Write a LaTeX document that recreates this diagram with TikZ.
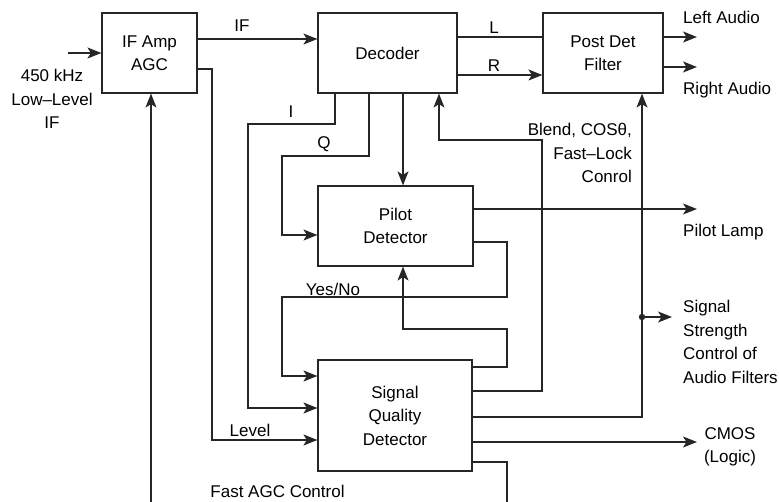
\documentclass[tikz,border=0pt]{standalone}
\usepackage{fontspec}
\setmainfont{Liberation Sans}
\usetikzlibrary{arrows.meta}
\begin{document}
\begin{tikzpicture}[x=1bp,y=-1bp,
  font=\fontsize{17bp}{23.5bp}\selectfont,
  wire/.style={line width=1.2bp,draw=black!85},
  arr/.style={wire,-{Stealth[length=14bp,width=11bp,inset=3.5bp]}},
  box/.style={draw=black!85,line width=1.2bp,align=center,inner sep=0pt},
  lbl/.style={inner sep=0pt,align=center}]
\useasboundingbox (0,0) rectangle (779,502);
% boxes
\node[box,minimum width=95bp,minimum height=80bp] (ifamp) at (149.5,53) {IF Amp\\AGC};
\node[box,minimum width=139bp,minimum height=80bp] (dec) at (387.5,53) {Decoder};
\node[box,minimum width=120bp,minimum height=80bp] (pdf) at (603,53) {Post Det\\Filter};
\node[box,minimum width=155bp,minimum height=80bp] (pilot) at (395.5,226) {Pilot\\Detector};
\node[box,minimum width=154bp,minimum height=111bp] (sqd) at (395,415.5) {Signal\\Quality\\Detector};
% coordinates for free ends
\coordinate (in) at (68,53);
\coordinate (la) at (697,37);
\coordinate (ra) at (697,67);
\coordinate (pl) at (697,209);
\coordinate (cm) at (697,442);
\coordinate (dot) at (642,317);
\coordinate (ss) at (672,317);
\coordinate (agcb) at (151,502);
\coordinate (agcr) at (507,502);
% labels
\node[lbl] (t450) at (52,99) {450 kHz\\Low–Level\\IF};
\node[lbl] (tif) at (242,26) {IF};
\node[lbl] (tl) at (494,28) {L};
\node[lbl] (tr) at (494,66) {R};
\node[lbl,anchor=west] (tla) at (683,17) {Left Audio};
\node[lbl,anchor=west] (tra) at (683,90) {Right Audio};
\node[lbl] (ti) at (291,112) {I};
\node[lbl] (tq) at (324,144) {Q};
\node[lbl,anchor=east,align=right] (tbl) at (632,153) {Blend, COSθ,\\Fast–Lock\\Conrol};
\node[lbl,anchor=west] (tpl) at (683,232) {Pilot Lamp};
\node[lbl,anchor=west,align=left] (tss) at (683,342) {Signal\\Strength\\Control of\\Audio Filters};
\node[lbl] (tyn) at (333,289) {Yes/No};
\node[lbl] (tlv) at (250,430) {Level};
\node[lbl] (tcm) at (730,447) {CMOS\\(Logic)};
\node[lbl] (tfa) at (277.5,491) {Fast AGC Control};
% connectors
\draw[arr] (in) -- (ifamp.west);
\draw[arr] (ifamp.east |- 0,39) -- (dec.west |- 0,39);
\draw[arr] (ifamp.east |- 0,69) -| (212,440) -- (sqd.west |- 0,440);
\draw[arr] (agcb) -- (ifamp.south -| agcb);
\draw[wire] (sqd.east |- 0,462) -| (agcr);
\draw[wire] (dec.east |- 0,37) -- (pdf.west |- 0,37);
\draw[arr] (dec.east |- 0,75) -- (pdf.west |- 0,75);
\draw[arr] (pdf.east |- la) -- (la);
\draw[arr] (pdf.east |- ra) -- (ra);
\draw[arr] (dec.south -| 335,0) |- (248,124) |- (sqd.west |- 0,408);
\draw[arr] (dec.south -| 369,0) |- (282,156) |- (pilot.west |- 0,235);
\draw[arr] (dec.south -| 403,0) -- (pilot.north -| 403,0);
\draw[arr] (sqd.east |- 0,391) -| (542,140) -| (dec.south -| 439,0);
\draw[arr] (sqd.east |- 0,417) -| (pdf.south -| dot);
\fill[black!85] (dot) circle (3.2bp);
\draw[arr] (dot) -- (ss);
\draw[arr] (pilot.east |- pl) -- (pl);
\draw[arr] (pilot.east |- 0,242) -| (507,297) -| (282,376) -- (sqd.west |- 0,376);
\draw[arr] (sqd.east |- 0,367) -| (507,329) -| (pilot.south -| 403,0);
\draw[arr] (sqd.east |- cm) -- (cm);
\end{tikzpicture}
\end{document}
